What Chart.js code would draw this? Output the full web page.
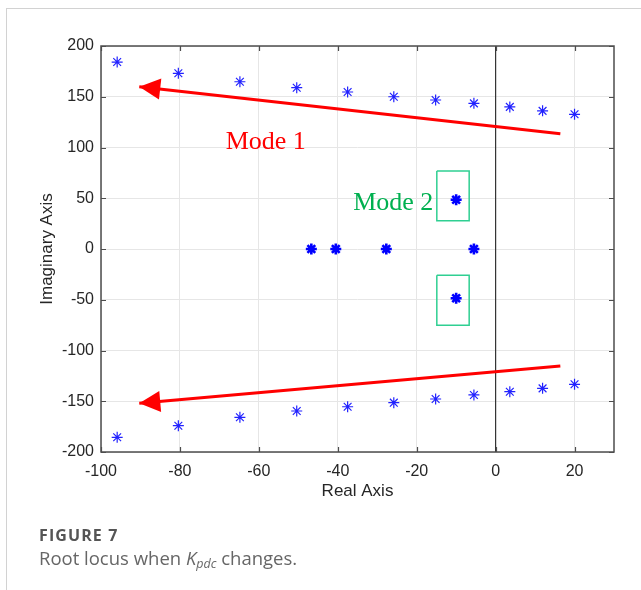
<!DOCTYPE html>
<html>
<head>
<meta charset="utf-8">
<script src="https://cdn.jsdelivr.net/npm/chart.js@4/dist/chart.umd.min.js"></script>
<style>
  html, body { margin: 0; padding: 0; background: #fff; }
  body { width: 641px; height: 590px; position: relative; overflow: hidden; }
  #frame { position: absolute; left: 6px; top: 8px; right: -2px; bottom: -2px;
           border-left: 1px solid #d2d2d2; border-top: 1px solid #d2d2d2; }
  #wrap { position: absolute; left: 0; top: 0; width: 641px; height: 590px; }
  #cap1 { position: absolute; left: 39px; top: 524px; font: bold 16px "Open Sans", sans-serif;
          color: #555; letter-spacing: 1.1px; }
  #cap2 { position: absolute; left: 39px; top: 545px; font: 18.5px "Open Sans", sans-serif; color: #666; }
  #cap2 sub { font-size: 12.5px; vertical-align: -3px; line-height: 0; }
</style>
</head>
<body>
<div id="frame"></div>
<div id="wrap"><canvas id="c" width="641" height="590"></canvas></div>
<div id="cap1">FIGURE 7</div>
<div id="cap2">Root locus when <i>K</i><sub><i>pdc</i></sub> changes.</div>
<script>
// ---- data ----
const upperReal = [-95.9, -80.4, -64.8, -50.4, -37.5, -25.8, -15.2, -5.5, 3.6, 11.9, 20.0];
const upperImag = [184.2, 173.1, 164.8, 158.9, 154.7, 150.0, 146.8, 143.5, 140.0, 136.1, 132.7];
const lowerReal = [-95.9, -80.4, -64.8, -50.4, -37.5, -25.8, -15.2, -5.5, 3.6, 11.9, 20.0];
const lowerImag = [-185.5, -174.1, -165.8, -159.6, -155.4, -151.4, -147.8, -143.8, -140.6, -137.3, -133.3];
const realAxisReal = [-46.7, -40.5, -27.7, -5.5];
const realAxisImag = [0, 0, 0, 0];
const mode2Real = [-10.0, -10.0];
const mode2Imag = [48.5, -48.5];
const arrowUpX = [16.4, -90.3];
const arrowUpY = [113.6, 159.9];
const arrowDnX = [16.4, -90.3];
const arrowDnY = [-115.3, -152.0];
const box1X = [-14.9, -6.7, -6.7, -14.9, -14.9];
const box1Y = [76.8, 76.8, 27.9, 27.9, 76.8];
const box2X = [-14.9, -6.7, -6.7, -14.9, -14.9];
const box2Y = [-25.9, -25.9, -75.2, -75.2, -25.9];
const zeroLineX = [0, 0];
const zeroLineY = [-200, 200];
const xTicks = [-100, -80, -60, -40, -20, 0, 20];
const yTicks = [-200, -150, -100, -50, 0, 50, 100, 150, 200];
const labelTexts = ["Mode 1", "Mode 2"];
const labelX = [-68.4, -36.1];
const labelY = [105.7, 45.3];
const labelColors = ["#ff0000", "#00b050"];

const pts = (xs, ys) => xs.map((x, i) => ({x: x, y: ys[i]}));

const frameBox = {
  id: 'frameBox',
  afterDatasetsDraw(chart) {
    const {ctx, chartArea: a, scales: {x, y}} = chart;
    ctx.save();
    ctx.strokeStyle = '#4d4d4d';
    ctx.lineWidth = 1.2;
    ctx.beginPath();
    xTicks.forEach(v => {
      const px = Math.round(x.getPixelForValue(v)) + 0.5;
      ctx.moveTo(px, a.bottom); ctx.lineTo(px, a.bottom - 5);
      ctx.moveTo(px, a.top); ctx.lineTo(px, a.top + 5);
    });
    yTicks.forEach(v => {
      const py = Math.round(y.getPixelForValue(v)) + 0.5;
      ctx.moveTo(a.left, py); ctx.lineTo(a.left + 5, py);
      ctx.moveTo(a.right, py); ctx.lineTo(a.right - 5, py);
    });
    ctx.stroke();
    ctx.lineWidth = 1.5;
    ctx.strokeRect(a.left, a.top, a.right - a.left, a.bottom - a.top);
    ctx.restore();
  }
};

const arrowHeads = {
  id: 'arrowHeads',
  afterDatasetsDraw(chart) {
    const ctx = chart.ctx;
    chart.data.datasets.forEach((ds, i) => {
      if (!ds.arrowHead) return;
      const el = chart.getDatasetMeta(i).data;
      const p0 = el[el.length - 2], p1 = el[el.length - 1];
      const dx = p1.x - p0.x, dy = p1.y - p0.y;
      const len = Math.hypot(dx, dy);
      const ux = dx / len, uy = dy / len;
      const L = 21, W = 21;
      const bx = p1.x - ux * L, by = p1.y - uy * L;
      ctx.save();
      ctx.fillStyle = ds.borderColor;
      ctx.beginPath();
      ctx.moveTo(p1.x, p1.y);
      ctx.lineTo(bx - uy * W / 2, by + ux * W / 2);
      ctx.lineTo(bx + uy * W / 2, by - ux * W / 2);
      ctx.closePath();
      ctx.fill();
      ctx.restore();
    });
  }
};

const textLabels = {
  id: 'textLabels',
  afterDatasetsDraw(chart) {
    const {ctx, scales: {x, y}} = chart;
    ctx.save();
    ctx.font = '26px "Liberation Serif", "Times New Roman", serif';
    ctx.textAlign = 'left';
    ctx.textBaseline = 'middle';
    labelTexts.forEach((t, i) => {
      ctx.fillStyle = labelColors[i];
      ctx.fillText(t, x.getPixelForValue(labelX[i]), y.getPixelForValue(labelY[i]));
    });
    ctx.restore();
  }
};

const starStyle = {
  type: 'scatter', pointStyle: 'star', pointRadius: 5.5,
  pointBorderColor: 'rgba(10,10,255,0.9)', pointBackgroundColor: 'rgba(0,0,0,0)',
  pointBorderWidth: 1.2, showLine: false
};
const boldStar = Object.assign({}, starStyle, {pointBorderColor: '#0000ff', pointBorderWidth: 2.6, pointRadius: 5.5});
const lineStyle = (color, w) => ({type: 'line', showLine: true, pointRadius: 0, borderColor: color,
  borderWidth: w, fill: false, tension: 0, backgroundColor: color});

const tickFont = { family: '"Liberation Sans", Arial, sans-serif', size: 16 };
const titleFont = { family: '"Liberation Sans", Arial, sans-serif', size: 17 };

new Chart(document.getElementById('c'), {
  type: 'scatter',
  data: {
    datasets: [
      Object.assign({data: pts(upperReal, upperImag)}, starStyle),
      Object.assign({data: pts(lowerReal, lowerImag)}, starStyle),
      Object.assign({data: pts(realAxisReal, realAxisImag)}, boldStar),
      Object.assign({data: pts(mode2Real, mode2Imag)}, boldStar),
      Object.assign({data: pts(arrowUpX, arrowUpY), arrowHead: true}, lineStyle('#ff0000', 3)),
      Object.assign({data: pts(arrowDnX, arrowDnY), arrowHead: true}, lineStyle('#ff0000', 3)),
      Object.assign({data: pts(box1X, box1Y)}, lineStyle('#2fcf92', 1.5)),
      Object.assign({data: pts(box2X, box2Y)}, lineStyle('#2fcf92', 1.5)),
      Object.assign({data: pts(zeroLineX, zeroLineY)}, lineStyle('#333333', 1.2))
    ]
  },
  options: {
    responsive: false,
    animation: false,
    layout: { padding: { left: 0, top: 46, right: 27, bottom: 70 } },
    plugins: { legend: { display: false }, tooltip: { enabled: false } },
    scales: {
      x: {
        type: 'linear', min: -100, max: 30,
        afterBuildTicks: s => { s.ticks = xTicks.map(v => ({value: v})); },
        afterFit: s => { s.height = 68; },
        grid: { color: '#e6e6e6', lineWidth: 1, drawTicks: false },
        border: { display: false },
        ticks: { color: '#262626', padding: 10, font: tickFont },
        title: { display: true, text: 'Real Axis', color: '#262626', font: titleFont,
                 padding: { top: 0, bottom: 18.8 } }
      },
      y: {
        type: 'linear', min: -200, max: 200,
        afterBuildTicks: s => { s.ticks = yTicks.map(v => ({value: v})); },
        afterFit: s => { s.width = 101; },
        grid: { color: '#e6e6e6', lineWidth: 1, drawTicks: false },
        border: { display: false },
        ticks: { color: '#262626', padding: 7, font: tickFont },
        title: { display: true, text: 'Imaginary Axis', color: '#262626', font: titleFont,
                 padding: { top: 36.8, bottom: 0 } }
      }
    }
  },
  plugins: [frameBox, arrowHeads, textLabels]
});
</script>
</body>
</html>
